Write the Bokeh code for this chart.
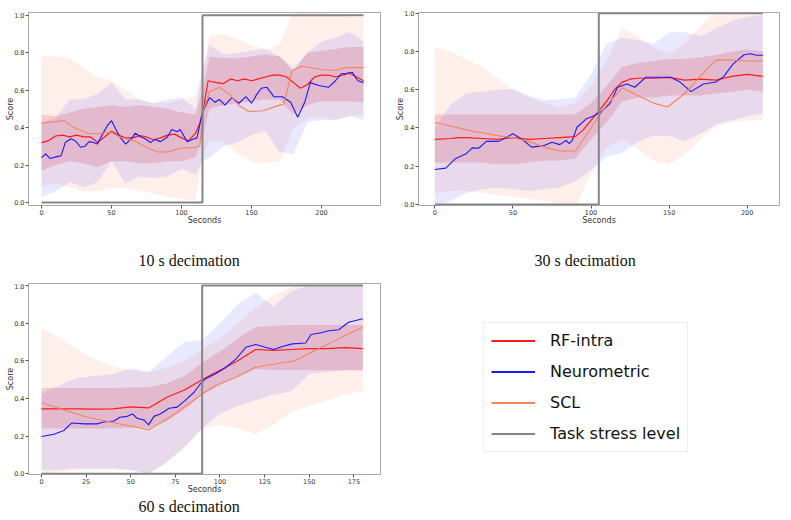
from bokeh.plotting import figure
from bokeh.models import Range1d, Title, Legend, LegendItem, CustomJSTickFormatter
from bokeh.layouts import row, column
from bokeh.embed import file_html
from bokeh.resources import INLINE

# ---------------- 10 s decimation ----------------
rf10_t = [0,5,10,15,20,25,30,35,40,45,50,55,60,65,70,75,80,85,90,95,100,105,110,113,116,119,
          125,130,135,140,145,150,155,160,165,170,175,180,185,190,195,200,205,210,215,220,225,230]
rf10 = [0.32,0.33,0.355,0.36,0.35,0.36,0.35,0.35,0.32,0.35,0.38,0.36,0.345,0.345,0.357,0.35,0.335,0.345,0.36,0.365,
        0.345,0.33,0.37,0.42,0.52,0.65,
        0.64,0.635,0.66,0.65,0.66,0.65,0.66,0.67,0.68,0.68,0.67,0.64,0.61,0.63,0.67,0.68,0.68,0.67,0.68,0.69,0.67,0.65]
neuro10_t = [0,3,6,11,14,17,21,24,28,31,34,37,40,43,47,50,53,56,60,64,67,71,74,78,81,85,90,93,97,99,
             104,109,111,115,118,120,124,127,131,136,141,146,150,154,157,161,166,172,178,183,
             188,192,198,205,210,214,218,222,226,230]
neuro10 = [0.24,0.26,0.235,0.245,0.25,0.32,0.34,0.33,0.295,0.30,0.325,0.32,0.312,0.357,0.41,0.437,0.393,0.35,0.312,0.34,
           0.37,0.35,0.34,0.32,0.337,0.325,0.35,0.39,0.378,0.39,0.325,0.34,0.345,0.48,0.53,0.56,0.535,0.55,0.52,0.56,
           0.53,0.565,0.53,0.58,0.61,0.615,0.565,0.565,0.535,0.455,0.535,0.64,0.625,0.615,0.65,0.687,0.69,0.695,0.65,0.64]
scl10_t = [0,16,23,33,40,49,56,66,75,83,90,99,110,113,116,120,127,134,141,148,158,170,173,179,186,200,210,217,230]
scl10 = [0.423,0.437,0.40,0.37,0.367,0.376,0.35,0.33,0.295,0.27,0.27,0.29,0.295,0.30,0.50,0.59,0.615,0.58,0.518,0.486,
         0.49,0.52,0.525,0.704,0.727,0.71,0.705,0.72,0.72]
band10_t = [0,10,20,30,40,50,60,70,80,90,100,110,115,120,130,140,150,160,170,180,190,200,210,220,230]
rf10_hi = [0.47,0.46,0.48,0.50,0.51,0.52,0.51,0.52,0.51,0.50,0.48,0.47,0.60,0.78,0.77,0.77,0.78,0.79,0.78,0.70,0.80,0.81,0.82,0.83,0.83]
rf10_lo = [0.17,0.20,0.22,0.21,0.19,0.22,0.22,0.21,0.21,0.22,0.22,0.24,0.35,0.50,0.52,0.53,0.54,0.55,0.55,0.47,0.52,0.54,0.54,0.54,0.535]
neuro10_hi = [0.43,0.45,0.55,0.55,0.58,0.64,0.55,0.55,0.53,0.55,0.56,0.50,0.70,0.84,0.79,0.80,0.81,0.82,0.78,0.72,0.80,0.86,0.88,0.91,0.86]
neuro10_lo = [0.03,0.06,0.11,0.08,0.11,0.22,0.10,0.14,0.13,0.14,0.18,0.15,0.22,0.24,0.30,0.32,0.36,0.38,0.27,0.26,0.43,0.44,0.44,0.46,0.44]
scl10_hi = [0.78,0.78,0.77,0.72,0.67,0.65,0.60,0.55,0.53,0.53,0.55,0.57,0.70,0.89,0.90,0.87,0.84,0.82,0.84,1.02,1.02,1.01,1.00,0.99,0.99]
scl10_lo = [0.09,0.10,0.08,0.06,0.06,0.08,0.08,0.06,0.05,0.03,0.02,0.01,0.25,0.33,0.33,0.26,0.22,0.21,0.22,0.40,0.45,0.46,0.44,0.46,0.47]
stress10_t = [0, 115, 230]
stress10 = [0, 1, 1]

# ---------------- 30 s decimation ----------------
rf30_t = [0,10,15,20,30,40,50,60,70,80,90,95,100,105,110,115,120,125,130,140,150,160,170,180,190,200,210]
rf30 = [0.34,0.345,0.35,0.35,0.345,0.34,0.35,0.34,0.345,0.35,0.355,0.39,0.44,0.49,0.54,0.60,0.64,0.655,0.66,0.66,
        0.665,0.65,0.655,0.65,0.67,0.68,0.67]
neuro30_t = [0,7,13,20,24,28,33,41,50,56,62,70,75,80,84,86,88,91,97,101,106,112,117,123,128,135,142,151,157,164,
             172,180,185,191,198,202,206,210]
neuro30 = [0.183,0.19,0.239,0.265,0.296,0.294,0.33,0.33,0.37,0.34,0.30,0.308,0.325,0.313,0.335,0.318,0.335,0.404,0.448,0.46,
           0.482,0.526,0.613,0.63,0.613,0.665,0.665,0.665,0.64,0.59,0.63,0.64,0.67,0.735,0.783,0.788,0.78,0.78]
scl30_t = [0,10,20,30,40,50,60,70,80,90,100,110,120,130,140,149,160,170,180,190,200,210]
scl30 = [0.43,0.41,0.39,0.375,0.36,0.35,0.33,0.30,0.28,0.28,0.40,0.52,0.61,0.57,0.53,0.51,0.58,0.67,0.755,0.755,0.75,0.75]
band30_t = [0,10,20,30,40,50,60,70,80,90,100,110,120,130,140,150,160,170,180,190,200,210]
rf30_hi = [0.47,0.47,0.47,0.47,0.47,0.47,0.47,0.47,0.47,0.47,0.53,0.62,0.72,0.74,0.75,0.76,0.76,0.77,0.78,0.80,0.81,0.80]
rf30_lo = [0.22,0.22,0.22,0.22,0.21,0.21,0.22,0.23,0.23,0.24,0.34,0.43,0.54,0.56,0.56,0.57,0.57,0.57,0.58,0.59,0.60,0.59]
neuro30_hi = [0.40,0.52,0.58,0.59,0.60,0.605,0.57,0.545,0.55,0.56,0.68,0.84,0.87,0.86,0.84,0.90,0.90,0.88,0.92,0.96,0.98,0.99]
neuro30_lo = [-0.02,0.02,0.06,0.08,0.09,0.08,0.07,0.08,0.09,0.12,0.18,0.25,0.27,0.33,0.36,0.36,0.33,0.37,0.42,0.44,0.46,0.475]
scl30_hi = [0.82,0.80,0.76,0.72,0.66,0.60,0.56,0.53,0.51,0.53,0.62,0.75,0.92,0.88,0.82,0.79,0.84,0.93,1.02,1.02,1.02,1.02]
scl30_lo = [0.06,0.07,0.07,0.06,0.05,0.04,0.03,0.02,0.0,-0.01,0.16,0.30,0.34,0.29,0.23,0.21,0.26,0.34,0.41,0.43,0.44,0.44]
stress30_t = [0, 105, 210]
stress30 = [0, 1, 1]

# ---------------- 60 s decimation ----------------
rf60_t = [0,10,20,30,40,50,60,70,80,90,100,110,120,130,140,150,160,170,180]
rf60 = [0.345,0.345,0.345,0.343,0.345,0.355,0.35,0.405,0.445,0.50,0.55,0.60,0.66,0.655,0.66,0.665,0.665,0.67,0.665]
neuro60_t = [0,7,12.5,17,24,31,35,40.5,44,48,51,53.5,57.5,60,63,66.5,71.5,76,80.5,85.5,89,92,97.5,103,109,114.5,
             120,125.5,130,135,140.5,148,151,157.5,161,166.5,172,180]
neuro60 = [0.198,0.21,0.23,0.27,0.265,0.265,0.275,0.28,0.30,0.305,0.318,0.295,0.285,0.26,0.305,0.318,0.348,0.354,0.39,0.433,
           0.478,0.505,0.531,0.563,0.61,0.672,0.687,0.672,0.66,0.676,0.69,0.695,0.74,0.75,0.76,0.765,0.805,0.823]
scl60_t = [0,25.6,60,72,91,97.5,109,120,133,142,152,161,170,180]
scl60 = [0.377,0.30,0.234,0.30,0.43,0.469,0.513,0.566,0.587,0.60,0.65,0.69,0.734,0.778]
band60_t = [0,10,20,30,40,50,60,70,80,90,100,110,120,130,140,150,160,170,180]
rf60_hi = [0.455,0.455,0.455,0.455,0.455,0.46,0.46,0.48,0.52,0.59,0.65,0.72,0.78,0.785,0.79,0.79,0.79,0.79,0.79]
rf60_lo = [0.24,0.24,0.24,0.24,0.24,0.245,0.245,0.28,0.34,0.42,0.47,0.52,0.557,0.55,0.55,0.55,0.55,0.55,0.55]
neuro60_hi = [0.425,0.47,0.51,0.52,0.53,0.56,0.54,0.62,0.70,0.71,0.80,0.90,0.96,0.89,0.97,1.0,1.0,1.0,1.0]
neuro60_lo = [0.02,0.02,0.03,0.03,0.03,0.02,0.0,0.06,0.14,0.24,0.32,0.36,0.39,0.42,0.44,0.53,0.54,0.55,0.55]
scl60_hi = [0.775,0.72,0.66,0.61,0.57,0.55,0.54,0.56,0.60,0.66,0.72,0.80,0.88,0.95,0.99,1.02,1.05,1.05,1.05]
scl60_lo = [0.0,0.01,0.02,0.02,0.02,0.02,0.0,0.06,0.14,0.24,0.26,0.24,0.21,0.26,0.33,0.36,0.39,0.42,0.44]
stress60_t = [0, 90, 180]
stress60 = [0, 1, 1]

ticks_200 = [0, 50, 100, 150, 200]
ticks_175 = [0, 25, 50, 75, 100, 125, 150, 175]
score_ticks = [0.0, 0.2, 0.4, 0.6, 0.8, 1.0]

captions = ["10 s decimation", "30 s decimation", "60 s decimation"]
legend_labels = ["RF-intra", "Neurometric", "SCL", "Task stress level"]

RF_C, NEURO_C, SCL_C, STRESS_C = "#ff1a1a", "#1a1aff", "#f4845a", "#858585"
SANS = "DejaVu Sans"
SERIF = "Liberation Serif"


def panel(width, height, xr, yr, borders, xticks, caption, gap, cap_standoff, cap_offset):
    bl, br, bt, bb = borders
    p = figure(width=width, height=height, x_range=Range1d(*xr), y_range=Range1d(*yr),
               output_backend="svg", toolbar_location=None,
               min_border_left=bl, min_border_right=br, min_border_top=bt, min_border_bottom=bb)
    p.grid.visible = False
    p.outline_line_color = "#a8a8a8"
    p.outline_line_width = 1
    p.background_fill_color = "white"
    p.border_fill_color = "white"
    for ax in (p.xaxis[0], p.yaxis[0]):
        ax.axis_line_color = None
        ax.major_tick_line_color = "#555555"
        ax.major_tick_out = 3
        ax.major_tick_in = 0
        ax.minor_tick_line_color = None
        ax.major_label_text_font = SANS
        ax.major_label_text_font_size = "6.5px"
        ax.major_label_text_color = "#333333"
        ax.axis_label_text_font = SANS
        ax.axis_label_text_font_size = "8px"
        ax.axis_label_text_font_style = "normal"
        ax.axis_label_text_color = "#333333"
    p.xaxis.major_label_standoff = 1
    p.xaxis.axis_label_standoff = -2
    p.yaxis.major_label_standoff = 1
    p.yaxis.axis_label_standoff = -4
    p.xaxis.ticker = xticks
    p.yaxis.ticker = score_ticks
    p.yaxis.formatter = CustomJSTickFormatter(code="return tick.toFixed(1);")
    p.xaxis.axis_label = "Seconds"
    p.yaxis.axis_label = "Score"
    if gap > 0:
        # blank spacer between the x axis and the caption
        p.add_layout(Title(text=" ", text_font_size="1px", standoff=gap), "below")
    p.add_layout(Title(text=caption, align="left", offset=cap_offset, text_font=SERIF,
                       text_font_size="16px", text_font_style="normal", text_color="#111111",
                       standoff=cap_standoff), "below")
    return p


def draw(p, bt, sc_lo, sc_hi, ne_lo, ne_hi, rf_lo, rf_hi,
         rf_t, rf, ne_t, ne, sc_t, sc, st_t, st):
    p.varea(x=bt, y1=sc_lo, y2=sc_hi, fill_color="#ff7f50", fill_alpha=0.12)
    p.varea(x=bt, y1=ne_lo, y2=ne_hi, fill_color="#3030ff", fill_alpha=0.11)
    p.varea(x=bt, y1=rf_lo, y2=rf_hi, fill_color="#d01030", fill_alpha=0.16)
    p.line(rf_t, rf, line_color=RF_C, line_width=1.2)
    p.line(ne_t, ne, line_color=NEURO_C, line_width=1.1)
    p.line(sc_t, sc, line_color=SCL_C, line_width=1.1)
    p.step(st_t, st, mode="after", line_color=STRESS_C, line_width=2)


p1 = panel(390, 283, (-9.29, 242.14), (-0.016, 1.0144), (28, 10, 12, 78), ticks_200,
           captions[0], 19, 0, 110)
draw(p1, band10_t, scl10_lo, scl10_hi, neuro10_lo, neuro10_hi, rf10_lo, rf10_hi,
     rf10_t, rf10, neuro10_t, neuro10, scl10_t, scl10, stress10_t, stress10)

p2 = panel(401, 283, (-10.44, 220.68), (-0.0052, 1.0037), (28, 12, 12, 78), ticks_200,
           captions[1], 19, 0, 116)
draw(p2, band30_t, scl30_lo, scl30_hi, neuro30_lo, neuro30_hi, rf30_lo, rf30_hi,
     rf30_t, rf30, neuro30_t, neuro30, scl30_t, scl30, stress30_t, stress30)

p3 = panel(390, 237, (-7.28, 189.92), (-0.0037, 1.0106), (28, 10, 0, 46), ticks_175,
           captions[2], 0, -2, 110)
draw(p3, band60_t, scl60_lo, scl60_hi, neuro60_lo, neuro60_hi, rf60_lo, rf60_hi,
     rf60_t, rf60, neuro60_t, neuro60, scl60_t, scl60, stress60_t, stress60)

# legend panel (its sample lines lie outside the visible range; only the legend shows)
p4 = figure(width=401, height=237, x_range=Range1d(-1000, -999), y_range=Range1d(-1000, -999),
            output_backend="svg", toolbar_location=None,
            x_axis_location=None, y_axis_location=None,
            min_border_left=0, min_border_right=0, min_border_top=0, min_border_bottom=46)
p4.grid.visible = False
p4.outline_line_color = None
items = []
for lab, col in zip(legend_labels, [RF_C, NEURO_C, SCL_C, STRESS_C]):
    r = p4.line(stress60_t, stress60, line_color=col, line_width=2)
    items.append(LegendItem(label=lab, renderers=[r]))
leg = Legend(items=items, location=(93, 22), orientation="vertical",
             label_text_font=SANS, label_text_font_size="16px", label_text_color="#111111",
             glyph_width=44, glyph_height=21, label_height=21, spacing=10, padding=7,
             label_standoff=15, border_line_color="#dddddd", border_line_width=1,
             background_fill_color="white", background_fill_alpha=1.0, margin=0)
p4.add_layout(leg, "center")

layout = column(row(p1, p2), row(p3, p4))
open("out.html", "w").write(file_html(layout, INLINE))
